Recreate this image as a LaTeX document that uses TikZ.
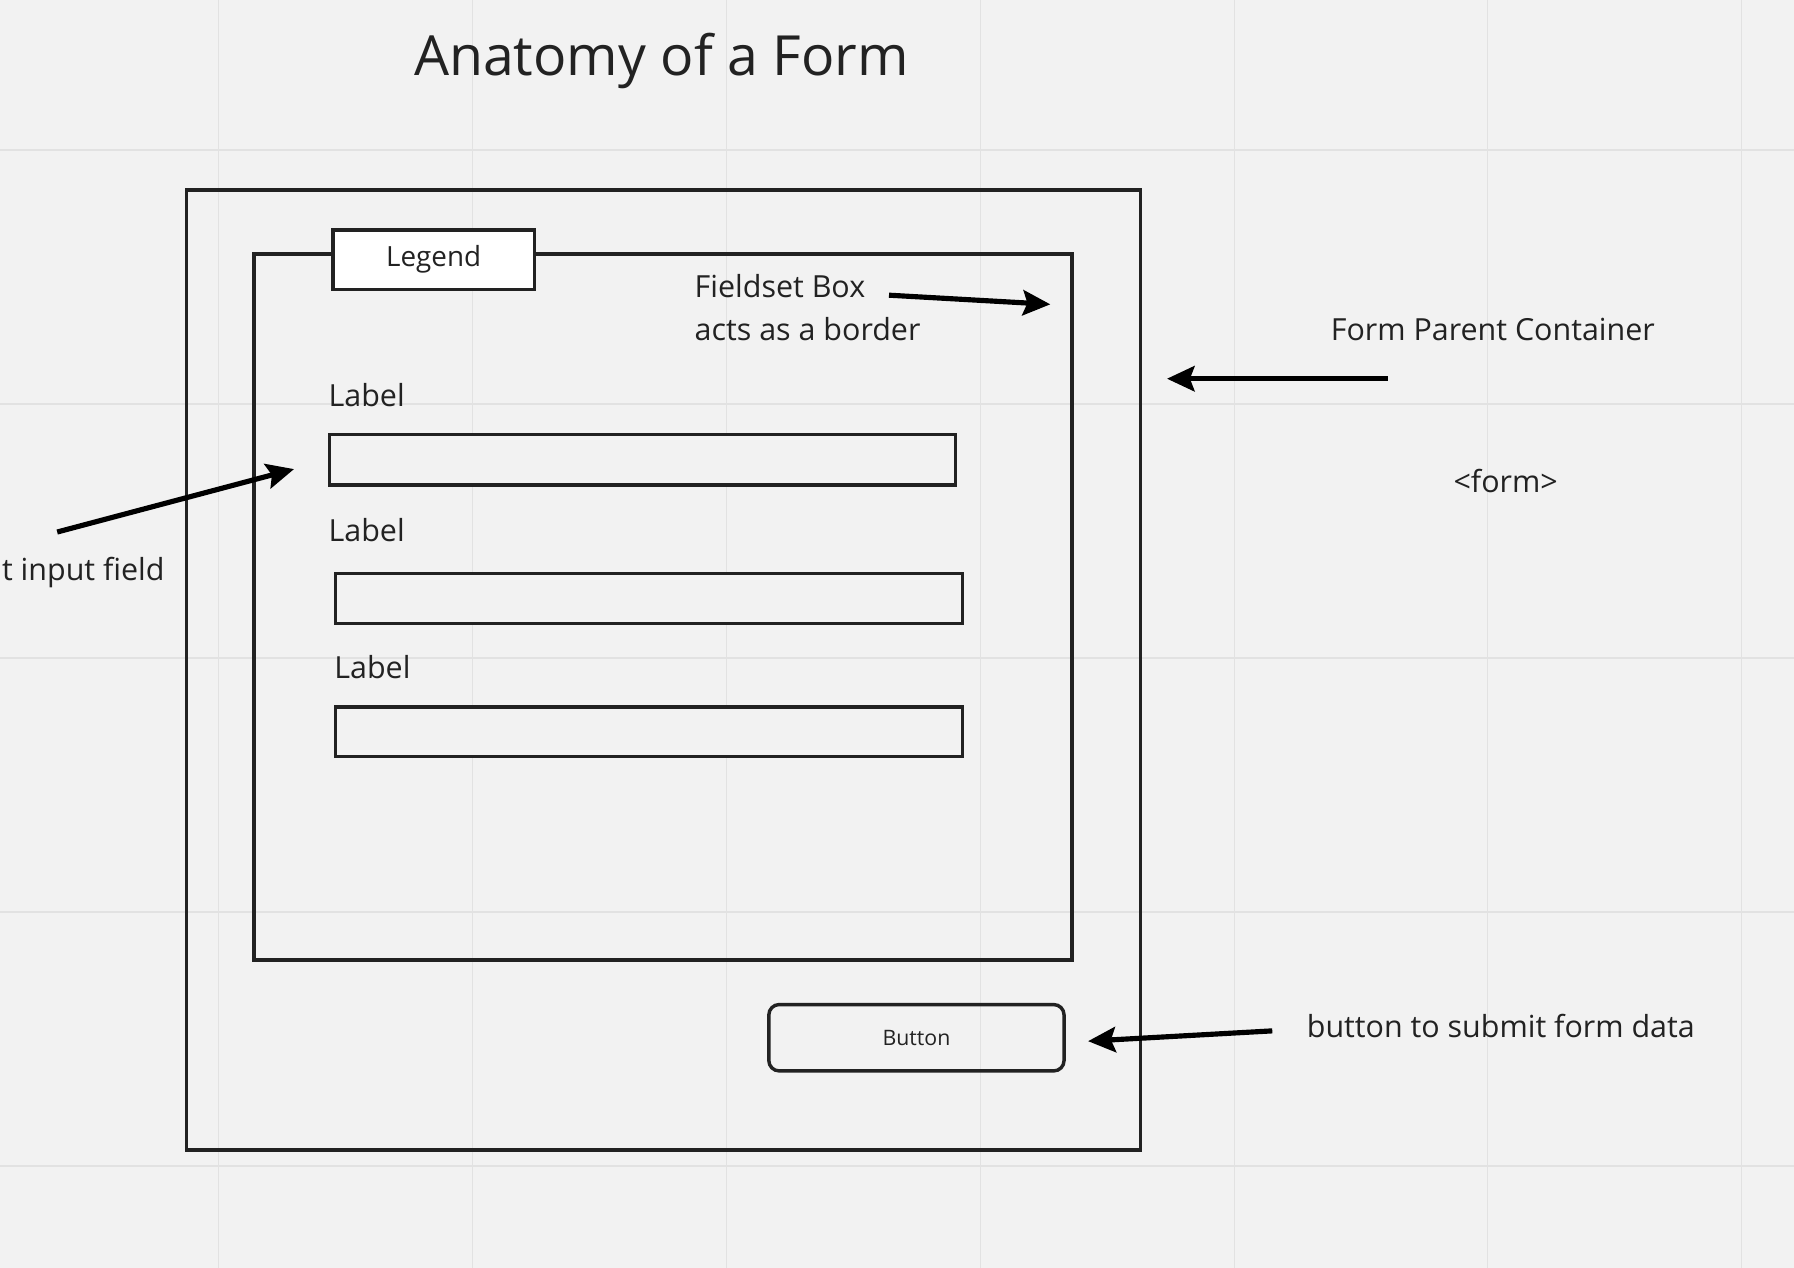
\documentclass[tikz,border=0pt]{standalone}
\usepackage{fontspec}
\setmainfont{Open Sans}
\usetikzlibrary{arrows.meta}
\definecolor{bg}{HTML}{F2F2F2}
\definecolor{gridc}{HTML}{E2E2E2}
\definecolor{ink}{HTML}{222222}
\tikzset{
  box/.style={draw=ink, line width=3pt},
  inputbox/.style={draw=ink, line width=3pt, fill=bg, inner sep=0pt},
  txt/.style={text=ink, inner sep=0pt, font=\fontsize{26.6}{38}\selectfont},
  pointer/.style={draw=black, line width=4.5pt, -{Stealth[length=24pt,width=22pt,inset=4pt]}, shorten >=0pt},
}
\begin{document}
\begin{tikzpicture}[x=1pt,y=-1pt]
\useasboundingbox[fill=bg] (0,0) rectangle (1568,1108);
% grid
\foreach \gx in {191,413,635,857,1079,1300,1522} \draw[gridc,line width=1.5pt] (\gx,0) -- (\gx,1108);
\foreach \gy in {131,353,575,797,1019} \draw[gridc,line width=1.5pt] (0,\gy) -- (1568,\gy);
% title
\node[txt, font=\fontsize{48.4}{56}\selectfont] (title) at (578,53) {Anatomy of a Form};
% outer form container
\node[box, minimum width=834pt, minimum height=839pt, inner sep=0pt] (form) at (580,585.5) {};
% fieldset
\node[box, minimum width=715pt, minimum height=617pt, inner sep=0pt] (fieldset) at (579.5,530.5) {};
% legend
\node[box, fill=white, minimum width=176pt, minimum height=52pt, inner sep=0pt, text=ink, font=\fontsize{24.3}{28}\selectfont] (legend) at (379,227) {Legend};
% fieldset text
\node[txt, anchor=west, align=left] (fstext) at (607,269) {Fieldset Box\\acts as a border};
% labels and inputs
\node[txt, anchor=west] (lab1) at (287,345) {Label};
\node[inputbox, minimum width=547pt, minimum height=44pt] (in1) at (561.5,402) {};
\node[txt, anchor=west] (lab2) at (287,463) {Label};
\node[inputbox, minimum width=548pt, minimum height=44pt] (in2) at (567,523) {};
\node[txt, anchor=west] (lab3) at (292,583) {Label};
\node[inputbox, minimum width=548pt, minimum height=43pt] (in3) at (567,639.5) {};
% button
\node[draw=ink, line width=3pt, rounded corners=9pt, minimum width=258pt, minimum height=58pt, inner sep=0pt, text=ink, font=\fontsize{18.6}{22}\selectfont] (button) at (801,907) {Button};
% annotations
\node[txt, anchor=west] (fpc) at (1163,288) {Form Parent Container};
\node[txt] (formtag) at (1316,420) {<form>};
\node[txt, anchor=east] (tif) at (144,500) {t input field};
\node[txt, anchor=west] (btext) at (1142,897) {button to submit form data};
% arrow coordinates
\coordinate (a1s) at (777,258);
\coordinate (a1e) at (918,266);
\coordinate (a2s) at (1213,331);
\coordinate (a2e) at (1020,331);
\coordinate (a3s) at (50,465);
\coordinate (a3e) at (257,410);
\coordinate (a4s) at (1112,901);
\coordinate (a4e) at (951,910);
\draw[pointer] (a1s) -- (a1e);
\draw[pointer] (a2s) -- (a2e);
\draw[pointer] (a3s) -- (a3e);
\draw[pointer] (a4s) -- (a4e);
\end{tikzpicture}
\end{document}
